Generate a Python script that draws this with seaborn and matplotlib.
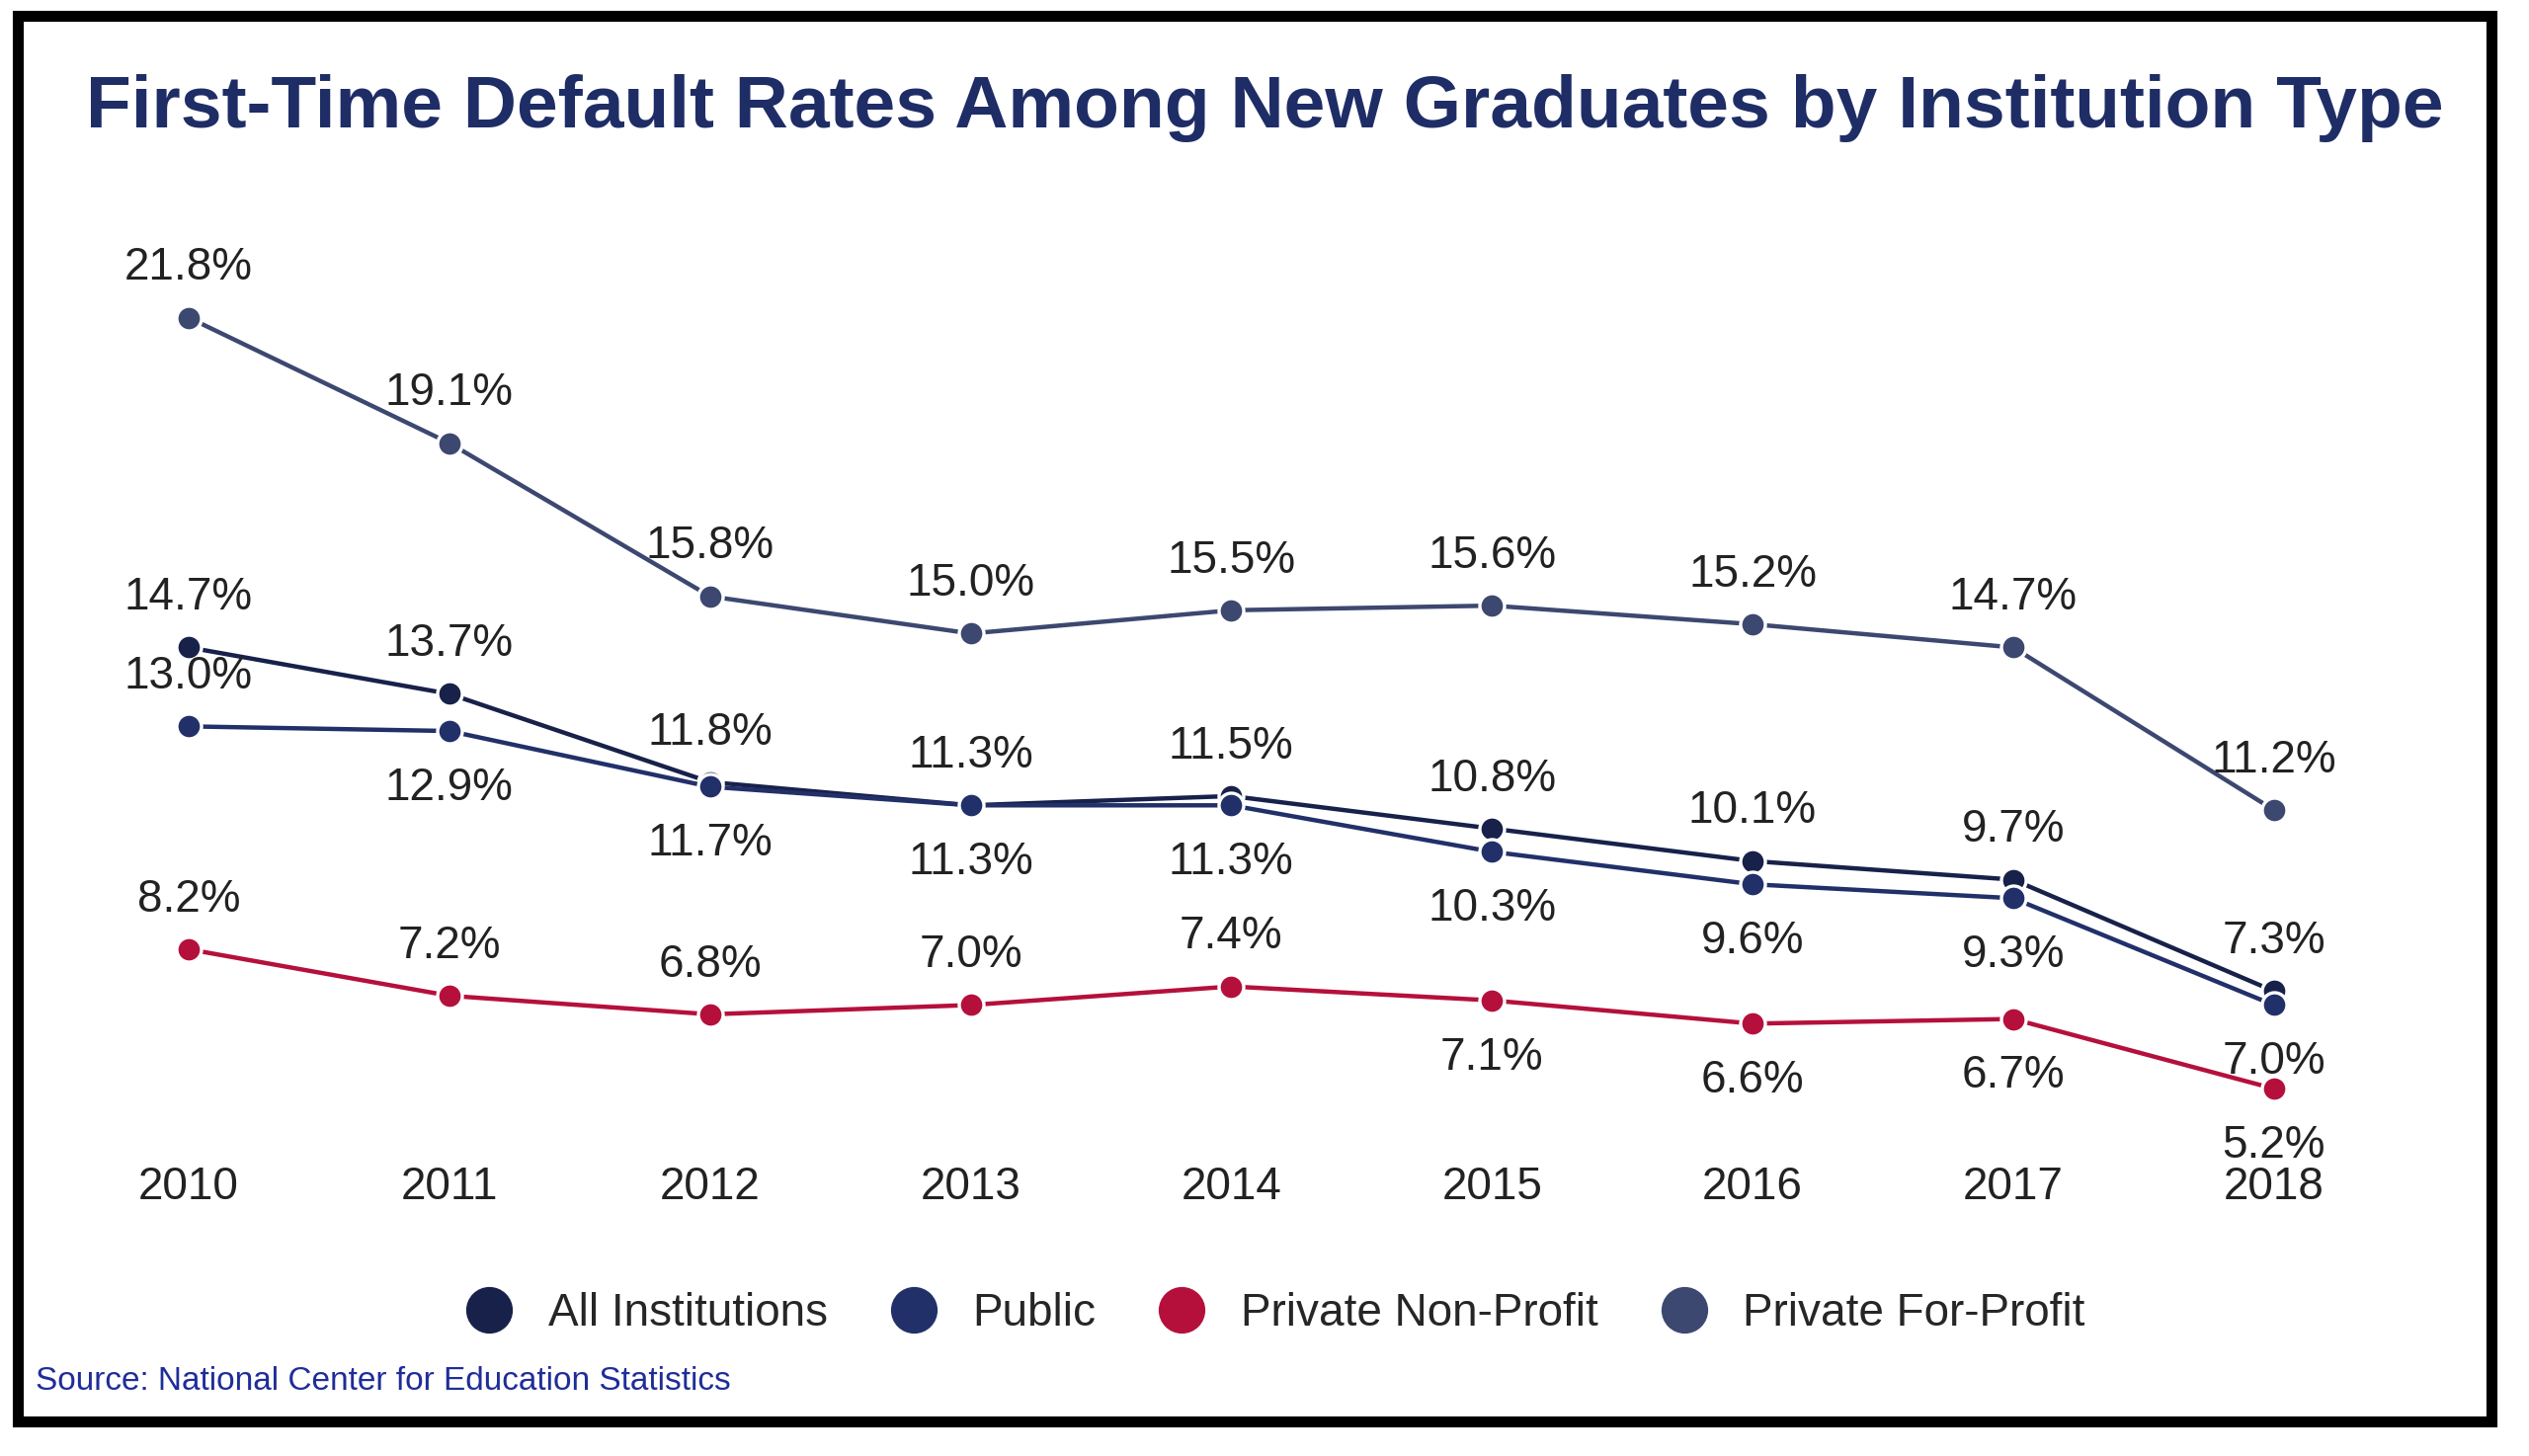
import numpy as np
import pandas as pd
import matplotlib
matplotlib.use('Agg')
import matplotlib.pyplot as plt
import seaborn as sns
from matplotlib.patches import Rectangle
from matplotlib.lines import Line2D

years = [2010, 2011, 2012, 2013, 2014, 2015, 2016, 2017, 2018]
all_inst = [14.7, 13.7, 11.8, 11.3, 11.5, 10.8, 10.1, 9.7, 7.3]
public = [13.0, 12.9, 11.7, 11.3, 11.3, 10.3, 9.6, 9.3, 7.0]
private_np = [8.2, 7.2, 6.8, 7.0, 7.4, 7.1, 6.6, 6.7, 5.2]
private_fp = [21.8, 19.1, 15.8, 15.0, 15.5, 15.6, 15.2, 14.7, 11.2]

series = {
    'All Institutions': (all_inst, '#17214a', ['a'] * 9),
    'Public': (public, '#22306a', ['a'] + ['b'] * 8),
    'Private Non-Profit': (private_np, '#b5103c', ['a'] * 5 + ['b'] * 4),
    'Private For-Profit': (private_fp, '#3c4870', ['a'] * 9),
}

sns.set_style('white')
plt.rcParams['font.family'] = ['Liberation Sans', 'DejaVu Sans']

fig = plt.figure(figsize=(12.8, 7.37), dpi=200)
ax = fig.add_axes([0, 0, 1, 1])
idx = np.arange(len(years))
for name, (vals, col, pos) in series.items():
    df = pd.DataFrame({'x': idx, 'y': vals})
    sns.lineplot(data=df, x='x', y='y', color=col, lw=1.6, marker='o', ms=9,
                 markeredgecolor='white', markeredgewidth=1.2, ax=ax, legend=False)
    for i, (v, p) in enumerate(zip(vals, pos)):
        off = 0.6 if p == 'a' else -1.7
        ax.text(i, v + off, f'{v:.1f}%', ha='center', va='bottom', fontsize=16.5, color='#222222')

for i, y in enumerate(years):
    ax.text(i, 2.6, str(y), ha='center', va='bottom', fontsize=16.5, color='#222222')

ax.set_xlim(-0.724, 8.979)
ax.set_ylim(-2.71, 28.64)
ax.axis('off')

fig.text(0.5, 0.926, 'First-Time Default Rates Among New Graduates by Institution Type',
         ha='center', va='center', fontsize=27, fontweight='bold', color='#1f2d66')
fig.text(0.014, 0.051, 'Source: National Center for Education Statistics',
         ha='left', va='center', fontsize=12, color='#1f2d99')

handles = [Line2D([], [], ls='', marker='o', ms=16, color=c[1]) for c in series.values()]
fig.legend(handles, list(series.keys()), loc='center', bbox_to_anchor=(0.5, 0.0975),
           ncol=4, frameon=False, fontsize=16.5, handletextpad=0.3, columnspacing=0.9)

fig.patches.append(Rectangle((0.007, 0.024), 0.978, 0.965, transform=fig.transFigure,
                             fill=False, lw=4, ec='black'))
fig.savefig('out.png', dpi=200)
